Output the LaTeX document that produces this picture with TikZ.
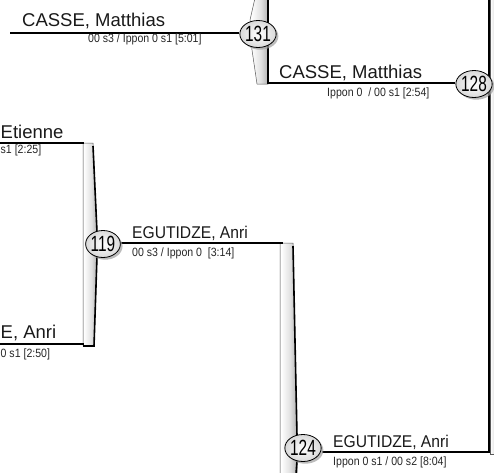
\documentclass[tikz,border=0pt]{standalone}
\usepackage{fontspec}
\setmainfont{Liberation Sans}
\newfontfamily\numfont[FakeStretch=0.7]{Liberation Sans}
\newfontfamily\egufont[FakeStretch=0.92]{Liberation Sans}
\newfontfamily\scorefont[FakeStretch=0.88]{Liberation Sans}
\usetikzlibrary{shadows,shapes.geometric,backgrounds}
\pgfdeclarehorizontalshading{barshade}{100bp}{color(0bp)=(black!38); color(28bp)=(white); color(55bp)=(black!12); color(100bp)=(black!52)}
\begin{document}
\begin{tikzpicture}[x=1pt,y=-1pt,
  wire/.style={line width=1.8pt, black},
  barfill/.style={shading=barshade, draw=gray!70!black, line width=0.5pt},
  barline/.style={line width=1.6pt, black},
  matchcircle/.style={ellipse, draw=black, line width=0.8pt, inner sep=0pt, minimum width=30pt, minimum height=27pt,
    inner color=white, outer color=gray!30,
    drop shadow={shadow xshift=2.2pt, shadow yshift=-2.2pt, fill=gray!75, opacity=0.7},
    font=\numfont\fontsize{22}{22}\selectfont},
  fighter/.style={inner sep=0pt, font=\fontsize{18.5}{18.5}\selectfont, text=black!90},
  fighterb/.style={inner sep=0pt, font=\egufont\fontsize{17}{17}\selectfont, text=black!90},
  result/.style={inner sep=0pt, font=\scorefont\fontsize{12}{12}\selectfont, text=black!85},
]
\path[use as bounding box, clip] (0,0) rectangle (494,472);

% match circles
\node[matchcircle] (c131) at (258,34) {131};
\node[matchcircle] (c128) at (474,84) {128};
\node[matchcircle] (c119) at (103,244) {119};
\node[matchcircle] (c124) at (303,448) {124};

% names and scores
\node[fighter, anchor=base west] (n1) at (22,26) {CASSE, Matthias};
\node[result, anchor=base west] (s1) at (88,42) {00 s3 / Ippon 0 s1 [5:01]};
\node[fighter, anchor=base west] (n2) at (279,78) {CASSE, Matthias};
\node[result, anchor=base west] (s2) at (327,96) {Ippon 0\ \ / 00 s1 [2:54]};
\node[fighter, anchor=base west] (n3) at (0.5,138) {Etienne};
\node[result, anchor=base west] (s3) at (0.5,153) {s1 [2:25]};
\node[fighter, anchor=base west] (n4) at (0.5,338) {E, Anri};
\node[result, anchor=base west] (s4) at (0.5,357) {0 s1 [2:50]};
\node[fighterb, anchor=base west] (n5) at (132,238) {EGUTIDZE, Anri};
\node[result, anchor=base west] (s5) at (132,256) {00 s3 / Ippon 0\ \ [3:14]};
\node[fighterb, anchor=base west] (n6) at (333,447) {EGUTIDZE, Anri};
\node[result, anchor=base west] (s6) at (333,465) {Ippon 0 s1 / 00 s2 [8:04]};

% free ends and corners
\coordinate (a1) at (10,33);
\coordinate (b1top) at (268,-2);
\coordinate (b1bot) at (268,83);
\coordinate (a3) at (-2,143);
\coordinate (b2top) at (84,143);
\coordinate (a4) at (-2,344);
\coordinate (b2bot) at (84,344);
\coordinate (b3top) at (283,243);
\coordinate (r124) at (489,452);
\coordinate (rtop) at (489,-2);

\begin{scope}[on background layer]
  % bar of 131
  \shade[barfill] (255,-2) -- (268,-2) -- (268,84) -- (257,84) -- (252,50) -- (250,20) -- cycle;
  % bar of 119
  \shade[barfill] (83,143) -- (93,143) -- (97,232) -- (97,256) -- (94,346) -- (83,346) -- cycle;
  \draw[barline] (93,146) -- (97,232);
  \draw[barline] (97,256) -- (94,346) -- (83,346);
  % bar of 124
  \shade[barfill] (280,243) -- (293,243) -- (297,436) -- (297,474) -- (280,474) -- cycle;
  \draw[barline] (293,246) -- (297,436);
  \draw[barline] (297,461) -- (296,474);
  % bar of 128
  \shade[barfill] (490,-2) -- (498,-2) -- (498,454) -- (490,454) -- cycle;
  % connectors
  \draw[wire] (a1) -- (c131.west |- a1);
  \draw[wire] (b1top) -- (b1bot) -- (c128.west |- b1bot);
  \draw[wire] (a3) -- (b2top);
  \draw[wire] (a4) -- (b2bot);
  \draw[wire] (c119.east |- b3top) -- (b3top);
  \draw[wire] (c124.east |- r124) -- (r124) -- (rtop);
\end{scope}
\end{tikzpicture}
\end{document}
